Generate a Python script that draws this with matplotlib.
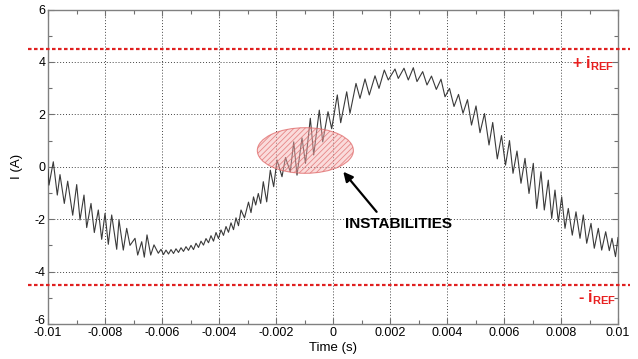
import numpy as np
import matplotlib
matplotlib.use('Agg')
import matplotlib.pyplot as plt
from matplotlib.patches import Ellipse
from matplotlib.transforms import ScaledTranslation
from matplotlib.ticker import FixedLocator, FixedFormatter, MultipleLocator

plt.rcParams['font.family'] = ['Liberation Sans', 'DejaVu Sans']
plt.rcParams['axes.unicode_minus'] = False
plt.rcParams['mathtext.fontset'] = 'custom'
plt.rcParams['mathtext.rm'] = 'Liberation Sans'
plt.rcParams['mathtext.bf'] = 'Liberation Sans:bold'
plt.rcParams['hatch.linewidth'] = 0.6
plt.rcParams['hatch.color'] = '#e06a6a'

# ---- data ----
time_ms = [
    -10.000, -9.965, -9.814, -9.674, -9.579, -9.428, -9.309, -9.133, -8.993, -8.877,
    -8.737, -8.642, -8.491, -8.375, -8.235, -8.116, -8.000, -7.884, -7.765, -7.589,
    -7.509, -7.358, -7.239, -7.123, -6.947, -6.853, -6.712, -6.621, -6.526, -6.396,
    -6.281, -6.130, -6.035,
    -5.947, -5.860, -5.772, -5.684, -5.596, -5.509, -5.421, -5.333, -5.246, -5.158,
    -5.070, -4.982, -4.895, -4.807, -4.719, -4.632, -4.544, -4.456, -4.368, -4.281,
    -4.193, -4.105, -4.018, -3.930, -3.842, -3.754, -3.667, -3.579, -3.491, -3.404,
    -3.316, -3.228,
    -3.105, -2.965, -2.877, -2.789, -2.712, -2.621, -2.537, -2.446, -2.326, -2.200,
    -2.081, -1.965, -1.789, -1.667, -1.498, -1.379, -1.263, -1.088, -0.965, -0.796,
    -0.677, -0.481, -0.361, -0.175, -0.046, 0.151, 0.270, 0.481, 0.596, 0.807,
    0.947, 1.123, 1.274, 1.474, 1.614, 1.800, 1.940, 2.175, 2.291, 2.491,
    2.642, 2.818, 2.947, 3.147, 3.298, 3.456, 3.625, 3.789, 3.930, 4.088,
    4.246, 4.404, 4.561, 4.719, 4.860, 5.018, 5.158, 5.316, 5.474, 5.604,
    5.765, 5.912, 6.053, 6.193, 6.316, 6.456, 6.596, 6.737, 6.877, 7.028,
    7.147, 7.298, 7.414, 7.554, 7.674, 7.789, 7.905, 8.025, 8.140, 8.256,
    8.396, 8.526, 8.667, 8.782, 8.902, 9.053, 9.168, 9.309, 9.428, 9.568,
    9.695, 9.789, 9.912, 10.000,
]
current_a = [
    -0.10, -0.70, 0.19, -1.08, -0.30, -1.40, -0.55, -1.85, -0.68, -2.03,
    -1.08, -2.32, -1.40, -2.51, -1.65, -2.77, -1.78, -2.96, -1.84, -3.15,
    -2.03, -3.18, -2.35, -3.00, -2.73, -3.37, -2.86, -3.45, -2.60, -3.37,
    -2.98, -3.30, -3.15,
    -3.35, -3.18, -3.33, -3.16, -3.31, -3.13, -3.27, -3.09, -3.23, -3.05,
    -3.19, -3.00, -3.16, -2.92, -3.08, -2.84, -2.99, -2.74, -2.90, -2.63,
    -2.84, -2.51, -2.74, -2.41, -2.62, -2.28, -2.50, -2.14, -2.40, -1.95,
    -2.25, -1.65,
    -1.95, -1.35, -1.75, -1.15, -1.46, -1.02, -1.40, -0.57, -1.34, -0.13,
    -0.76, 0.26, -0.38, 0.35, -0.19, 0.95, -0.32, 1.10, 0.13, 1.85,
    0.45, 2.16, 0.95, 2.10, 1.45, 2.74, 1.68, 2.86, 2.04, 3.18,
    2.61, 3.35, 2.74, 3.47, 2.99, 3.69, 3.31, 3.73, 3.37, 3.76,
    3.31, 3.78, 3.25, 3.63, 3.12, 3.46, 2.95, 3.34, 2.67, 2.99,
    2.30, 2.76, 2.04, 2.56, 1.59, 2.32, 1.30, 2.03, 0.83, 1.69,
    0.30, 1.19, 0.06, 1.00, -0.25, 0.60, -0.63, 0.32, -1.02, 0.13,
    -1.59, -0.19, -1.65, -0.51, -1.97, -0.89, -2.10, -1.15, -2.35, -1.59,
    -2.61, -1.72, -2.73, -1.84, -2.92, -2.16, -3.11, -2.35, -3.18, -2.48,
    -3.20, -2.73, -3.43, -2.70,
]
x_ticks = [-0.01, -0.008, -0.006, -0.004, -0.002, 0, 0.002, 0.004, 0.006, 0.008, 0.01]
x_tick_labels = ['-0.01', '-0.008', '-0.006', '-0.004', '-0.002', '0',
                 '0.002', '0.004', '0.006', '0.008', '0.01']
y_ticks = [-6, -4, -2, 0, 2, 4, 6]
y_tick_labels = ['-6', '-4', '-2', '0', '2', '4', '6']
i_ref = 4.5

t = np.array(time_ms) / 1000.0
i = np.array(current_a)

fig = plt.figure(figsize=(6.38, 3.59), dpi=100)
ax = fig.add_axes([48/638, 35/359, 570/638, 314.5/359])

ax.plot(t, i, color='#3a3a3a', lw=0.8, zorder=3)

ax.set_xlim(-0.01, 0.01)
ax.set_ylim(-6, 6)
ax.xaxis.set_major_locator(FixedLocator(x_ticks))
ax.xaxis.set_major_formatter(FixedFormatter(x_tick_labels))
ax.yaxis.set_major_locator(FixedLocator(y_ticks))
ax.yaxis.set_major_formatter(FixedFormatter(y_tick_labels))
ax.xaxis.set_minor_locator(MultipleLocator(0.001))
ax.yaxis.set_minor_locator(MultipleLocator(1))
ax.tick_params(which='both', direction='in', top=True, right=True, color='#707070',
               labelsize=9, labelcolor='black')
ax.tick_params(which='major', length=4, width=0.8, pad=2)
ax.tick_params(which='minor', length=3, width=0.8)
for s in ax.spines.values():
    s.set_color('#808080')
    s.set_linewidth(1.0)
ax.grid(True, which='major', color='#444444', linestyle=(0, (1, 2)), linewidth=0.7)

# nudge the lowest y label up a little so it does not collide with "-0.01"
low_lbl = ax.yaxis.get_major_ticks()[0].label1
low_lbl.set_transform(low_lbl.get_transform() +
                      ScaledTranslation(0, 3.5/72, fig.dpi_scale_trans))

ax.set_xlabel('Time (s)', fontsize=9.5, labelpad=2)
ax.set_ylabel('I (A)', fontsize=9.5, labelpad=8)

# reference lines
tr = ax.get_yaxis_transform()
for y in (i_ref, -i_ref):
    ax.plot([-0.035, 1.021], [y, y], transform=tr, clip_on=False,
            color='#e02020', lw=1.6, dashes=(1.6, 1.1), zorder=4)

ax.text(0.0084, 3.95, r'+ $\mathbf{i_{REF}}$', color='#e82020', fontsize=11.5,
        fontweight='bold', ha='left', va='center')
ax.text(0.0086, -5.0, r'- $\mathbf{i_{REF}}$', color='#e82020', fontsize=11.5,
        fontweight='bold', ha='left', va='center')

# instability highlight
ax.add_patch(Ellipse((-0.00097, 0.62), 0.00337, 1.74, facecolor='#f6b0b0',
                     edgecolor='none', alpha=0.45, zorder=5))
ax.add_patch(Ellipse((-0.00097, 0.62), 0.00337, 1.74, facecolor='none',
                     edgecolor='#e06a6a', hatch='//////', lw=0.8, alpha=0.75, zorder=5))

ax.annotate('', xy=(0.00036, -0.19), xytext=(0.00153, -1.72),
            arrowprops=dict(arrowstyle='-|>', color='black', lw=1.6,
                            mutation_scale=14, shrinkA=0, shrinkB=0), zorder=6)
ax.text(0.0023, -2.2, 'INSTABILITIES', fontsize=11, fontweight='bold',
        ha='center', va='center', color='black')

fig.savefig('out.png', dpi=100)
